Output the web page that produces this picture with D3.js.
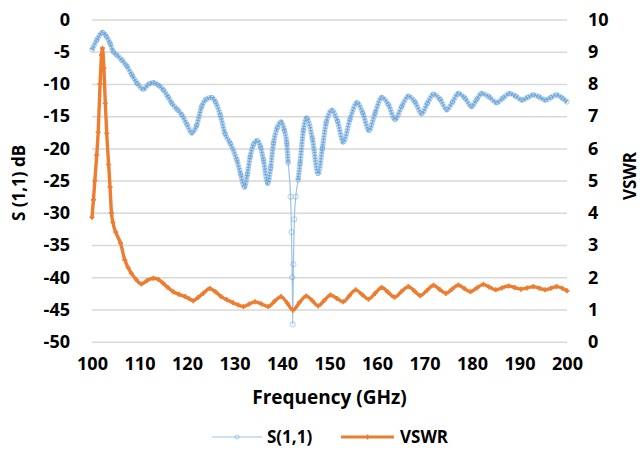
<!DOCTYPE html>
<html><head><meta charset="utf-8">
<script src="https://cdn.jsdelivr.net/npm/d3@7"></script>
<style>
html,body{margin:0;padding:0;background:#fff;}
svg text{font-family:"Open Sans",sans-serif;font-weight:700;fill:#000;}
</style></head>
<body>
<svg id="chart" width="640" height="452"></svg>
<script>
// ---- data ----
const xTickValues = [100,110,120,130,140,150,160,170,180,190,200];
const leftTickValues = [0,-5,-10,-15,-20,-25,-30,-35,-40,-45,-50];
const rightTickValues = [0,1,2,3,4,5,6,7,8,9,10];

const s11Freq = [100,101,102.2,103,103.8,104.5,105.2,106.3,107.3,108.4,109.5,110.8,112,112.9,114,115,116,116.8,118,118.9,120,121,122,123.1,124,125.2,126,127,128,129.1,130.5,131.3,132.1,132.7,133.3,134,134.8,135.5,136.1,137,137.6,138.2,139,139.8,140.5,141,141.3,141.8,142,142.15,142.25,142.4,142.6,142.9,143.4,143.8,144.5,145.2,146.4,147.6,148.5,149.3,150.5,151.7,152.9,154.3,155.8,157,158.3,159.6,161,162.4,163.8,165.2,166.6,168,169.4,170.6,171.9,173.3,174.7,175.9,177.1,178.5,179.9,181,182,183.6,185.2,186.5,187.9,189.2,190.5,191.7,192.9,194.1,195.4,196.6,197.8,199,200];
const s11Values = [-4.7,-3.2,-2.0,-2.6,-3.7,-5.0,-5.5,-6.3,-7.2,-8.6,-9.9,-10.8,-10.0,-9.8,-10.2,-10.9,-12.0,-13.0,-14.0,-14.8,-16.3,-17.6,-16.5,-13.5,-12.4,-12.1,-12.8,-14.8,-17.7,-19.2,-21.8,-24.0,-26.0,-24.0,-21.3,-19.4,-18.8,-19.8,-21.8,-25.4,-23.0,-19.2,-16.8,-15.9,-17.2,-19.2,-22.3,-27.5,-33.0,-40.0,-47.3,-38.0,-31.0,-27.5,-24.9,-22.3,-17.2,-15.3,-18.5,-23.9,-20.0,-16.0,-14.1,-15.8,-19.0,-15.5,-12.9,-14.5,-17.2,-14.5,-12.1,-13.2,-15.5,-13.5,-11.9,-12.8,-14.6,-13.0,-11.6,-12.4,-14.0,-12.8,-11.5,-12.2,-13.5,-12.4,-11.5,-12.0,-12.9,-12.2,-11.5,-11.9,-12.5,-12.1,-11.7,-12.0,-12.5,-12.1,-11.7,-12.2,-12.8];

const vswrFreq = [100,100.3,100.6,101,101.3,101.7,102,102.2,102.5,102.8,103.1,103.5,103.8,104.1,104.4,105,106,106.9,107.6,108.3,109.3,110.4,111.6,112.9,114,115,116,117.1,118.3,119.6,120.5,121.3,122.3,123.4,124.8,126,127.2,128.4,129.7,130.8,131.9,133.1,134.3,135.7,137.1,138.4,139.8,141.1,142.3,143.7,145.1,146.4,147.6,148.9,150.2,151.6,152.9,154.2,155.5,156.9,158.2,159.6,161,162.3,163.7,165.1,166.6,167.9,169.1,170.5,171.9,173.2,174.5,175.8,177.1,178.4,179.7,181,182.4,183.6,185,186.3,187.7,189,190.3,191.6,192.9,194.2,195.4,196.6,197.8,199,200];
const vswrValues = [3.86,4.4,5.0,5.8,6.5,8.0,8.9,9.11,8.5,7.4,6.47,5.5,4.8,4.0,3.7,3.4,3.06,2.54,2.3,2.12,1.93,1.79,1.9,1.97,1.93,1.81,1.68,1.55,1.47,1.40,1.33,1.27,1.37,1.50,1.65,1.55,1.40,1.30,1.21,1.14,1.09,1.17,1.24,1.17,1.09,1.25,1.40,1.20,0.98,1.22,1.42,1.27,1.11,1.28,1.45,1.34,1.24,1.43,1.61,1.46,1.32,1.50,1.68,1.54,1.38,1.55,1.71,1.57,1.43,1.59,1.75,1.62,1.50,1.63,1.76,1.65,1.55,1.67,1.78,1.70,1.61,1.67,1.73,1.68,1.63,1.67,1.71,1.66,1.61,1.66,1.71,1.66,1.58];

const seriesNames = ["S(1,1)","VSWR"];
const colors = {s11:"#5B9BD5", vswr:"#ED7D31", grid:"#D9D9D9"};

// ---- layout ----
const plotL = 92, plotR = 567, plotT = 19.5, plotB = 341.7;
const FS = 18;
const svg = d3.select("#chart");

const x = d3.scaleLinear().domain([100,200]).range([plotL,plotR]);
const yL = d3.scaleLinear().domain([-50,0]).range([plotB,plotT]);
const yR = d3.scaleLinear().domain([0,10]).range([plotB,plotT]);
const fmt = d => String(d);

// gridlines
const grid = svg.append("g").attr("transform",`translate(${plotL},0)`)
  .call(d3.axisLeft(yL).tickValues(leftTickValues).tickSize(-(plotR-plotL)).tickFormat(""));
grid.select(".domain").remove();
grid.selectAll("line").attr("stroke",colors.grid).attr("stroke-width",1.5);

function styleAxis(g){
  g.select(".domain").remove();
  g.selectAll("text").attr("font-size",FS).attr("font-family","Open Sans").attr("font-weight",700).attr("fill","#000");
}
svg.append("g").attr("transform",`translate(${plotL},0)`)
  .call(d3.axisLeft(yL).tickValues(leftTickValues).tickSize(0).tickPadding(22).tickFormat(fmt)).call(styleAxis);
svg.append("g").attr("transform",`translate(${plotR},0)`)
  .call(d3.axisRight(yR).tickValues(rightTickValues).tickSize(0).tickPadding(21).tickFormat(fmt)).call(styleAxis);
svg.append("g").attr("transform",`translate(0,${plotB})`)
  .call(d3.axisBottom(x).tickValues(xTickValues).tickSize(0).tickPadding(16).tickFormat(fmt)).call(styleAxis);

// axis titles
svg.append("text").attr("x",(plotL+plotR)/2).attr("y",404).attr("text-anchor","middle")
  .attr("font-size",19).text("Frequency (GHz)");
svg.append("text").attr("transform","translate(25,183) rotate(-90)").attr("text-anchor","middle")
  .attr("font-size",17).text("S (1,1) dB");
svg.append("text").attr("transform","translate(636,176) rotate(-90)").attr("text-anchor","middle")
  .attr("font-size",17).text("VSWR");

// S11 series: dense-marker band where points are packed, thin line where they spread (the deep dip)
const s11Data = s11Freq.map((f,i)=>({f, v:s11Values[i]}));
const lineL = d3.line().x(d=>x(d.f)).y(d=>yL(d.v)).curve(d3.curveMonotoneX);
const bandL = d3.line().defined(d=>d.v > -27).x(d=>x(d.f)).y(d=>yL(d.v)).curve(d3.curveMonotoneX);
svg.append("path").datum(s11Data).attr("d",lineL).attr("fill","none")
  .attr("stroke","#9DC3E6").attr("stroke-width",1.2);
svg.append("path").datum(s11Data).attr("d",bandL).attr("fill","none")
  .attr("stroke",colors.s11).attr("stroke-width",5.5).attr("stroke-opacity",0.35).attr("stroke-linejoin","round");
svg.append("path").datum(s11Data).attr("d",bandL).attr("fill","none")
  .attr("stroke",colors.s11).attr("stroke-width",4).attr("stroke-opacity",0.7).attr("stroke-dasharray","1.2,1.6");
svg.append("g").selectAll("circle").data(s11Data).join("circle")
  .attr("cx",d=>x(d.f)).attr("cy",d=>yL(d.v)).attr("r",d=>d.v > -27 ? 2.2 : 2.6)
  .attr("fill","none").attr("stroke",colors.s11).attr("stroke-opacity",0.6).attr("stroke-width",0.8);

// VSWR series
const vData = vswrFreq.map((f,i)=>({f, v:vswrValues[i]}));
const lineR = d3.line().x(d=>x(d.f)).y(d=>yR(d.v)).curve(d3.curveMonotoneX);
svg.append("path").datum(vData).attr("d",lineR).attr("fill","none")
  .attr("stroke",colors.vswr).attr("stroke-width",3.4).attr("stroke-linejoin","round").attr("stroke-linecap","round");
const plus = d3.symbol().type(d3.symbolCross).size(14);
svg.append("g").selectAll("path").data(vData).join("path")
  .attr("transform",d=>`translate(${x(d.f)},${yR(d.v)})`).attr("d",plus).attr("fill",colors.vswr);

// legend
const lg = svg.append("g");
lg.append("line").attr("x1",212).attr("x2",262).attr("y1",437).attr("y2",437)
  .attr("stroke","#9DC3E6").attr("stroke-width",1.2);
lg.append("circle").attr("cx",237).attr("cy",437).attr("r",2).attr("fill","none")
  .attr("stroke",colors.s11).attr("stroke-opacity",0.6).attr("stroke-width",0.8);
lg.append("text").attr("x",267).attr("y",443).attr("font-size",17).attr("font-weight",600).text(seriesNames[0]);
lg.append("line").attr("x1",341).attr("x2",394).attr("y1",437).attr("y2",437)
  .attr("stroke",colors.vswr).attr("stroke-width",3);
lg.append("path").attr("transform","translate(367.5,437)").attr("d",plus).attr("fill",colors.vswr);
lg.append("text").attr("x",400).attr("y",443).attr("font-size",17).attr("font-weight",600).text(seriesNames[1]);
</script>
</body></html>
